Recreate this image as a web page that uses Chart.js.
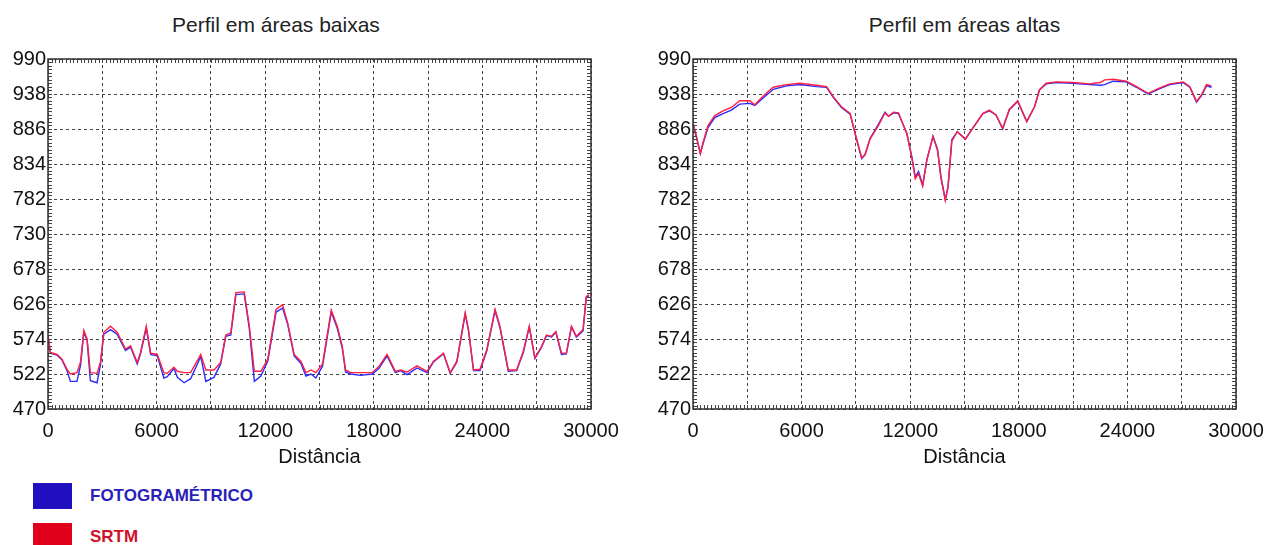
<!DOCTYPE html>
<html>
<head>
<meta charset="utf-8">
<script src="https://cdn.jsdelivr.net/npm/chart.js@4"></script>
<style>
  body { margin: 0; background: #fff; width: 1274px; height: 545px; overflow: hidden; position: relative; font-family: "Liberation Sans", Arial, sans-serif; }
  canvas { position: absolute; top: 0; }
  .titulo { position: absolute; top: 14px; font-size: 21px; line-height: 21px; color: #222; text-align: center; }
  .caixa { position: absolute; left: 33px; width: 39px; }
  .rotulo { position: absolute; left: 90px; font-size: 17px; line-height: 17px; font-weight: bold; }
</style>
</head>
<body>
<div class="titulo" style="left:0;width:552px">Perfil em áreas baixas</div>
<div class="titulo" style="left:693px;width:543px">Perfil em áreas altas</div>
<canvas id="baixas" width="637" height="475" style="left:0;width:637px;height:475px"></canvas>
<canvas id="altas" width="637" height="475" style="left:637px;width:637px;height:475px"></canvas>
<div class="caixa" style="top:483px;height:26px;background:#2010c0"></div>
<div class="rotulo" style="top:487px;color:#2a1fb8">FOTOGRAMÉTRICO</div>
<div class="caixa" style="top:523px;height:22px;background:#e0001b"></div>
<div class="rotulo" style="top:528px;color:#d0102a">SRTM</div>
<script>
// perfil em areas baixas
const distBaixas = [0, 130, 500, 770, 1050, 1240, 1600, 1800, 1980, 2160, 2340, 2710, 2900, 3080, 3450, 3820, 4280, 4560, 4930, 5100,
  5430, 5670, 6040, 6400, 6590, 6960, 7150, 7520, 7880, 8440, 8720, 9170, 9540, 9820, 10100, 10380, 10840, 11120, 11400, 11760,
  12140, 12600, 12960, 13240, 13600, 13970, 14250, 14530, 14800, 15170, 15650, 15980, 16260, 16440, 16720, 17270, 17910, 18280, 18730, 19190,
  19470, 19840, 20390, 20940, 21300, 21850, 22220, 22590, 23050, 23230, 23510, 23870, 24240, 24700, 24970, 25430, 25890, 26260, 26590, 26900,
  27270, 27540, 27820, 28060, 28370, 28640, 28920, 29190, 29560, 29740, 29890];
const fotoBaixas = [578, 553, 550, 543, 527, 511, 511, 535, 584, 572, 512, 509, 536, 581, 588, 581, 557, 562, 537, 551,
  590, 551, 549, 516, 518, 530, 517, 509, 515, 548, 511, 517, 537, 578, 580, 640, 641, 590, 511, 519,
  541, 614, 620, 596, 549, 538, 519, 522, 516, 534, 614, 590, 560, 525, 522, 520, 522, 530, 549, 524,
  527, 521, 531, 524, 540, 552, 523, 540, 611, 587, 527, 527, 556, 616, 591, 526, 527, 554, 592, 545,
  562, 579, 577, 584, 551, 552, 592, 577, 586, 636, 638];
const srtmBaixas = [580, 554, 551, 544, 529, 522, 524, 540, 587, 574, 524, 523, 540, 584, 593, 584, 559, 564, 539, 553,
  593, 553, 551, 524, 523, 532, 526, 524, 524, 551, 528, 528, 539, 580, 583, 643, 644, 594, 526, 526,
  544, 618, 625, 598, 551, 541, 524, 528, 524, 537, 617, 593, 563, 528, 524, 524, 524, 533, 551, 526,
  528, 525, 534, 526, 541, 553, 524, 541, 613, 588, 528, 529, 558, 618, 593, 528, 528, 556, 593, 546,
  563, 580, 578, 585, 553, 553, 593, 578, 588, 637, 640];

// perfil em areas altas
const distAltas = [0, 185, 406, 554, 830, 1200, 1660, 2120, 2580, 3140, 3415, 3875, 4430, 5170, 5900, 6830, 7380, 7750, 8200, 8680,
  9050, 9320, 9510, 9780, 10240, 10610, 10800, 11080, 11350, 11810, 12090, 12280, 12460, 12690, 12920, 13260, 13510, 13700, 13940, 14090,
  14300, 14600, 15050, 15450, 16010, 16380, 16740, 17110, 17480, 17940, 18440, 18870, 19140, 19510, 20070, 20990, 21910, 22500, 22740, 23210,
  23940, 24500, 25140, 25790, 26340, 27080, 27450, 27820, 28100, 28370, 28650];
const fotoAltas = [893, 874, 850, 864, 888, 903, 909, 914, 923, 924, 921, 932, 945, 950, 952, 949, 948, 933, 918, 908,
  869, 842, 848, 872, 893, 911, 905, 910, 909, 880, 845, 815, 823, 803, 840, 875, 856, 815, 781, 800,
  870, 882, 871, 887, 909, 913, 907, 886, 915, 927, 897, 919, 944, 953, 955, 954, 952, 951, 952, 957,
  956, 948, 938, 946, 952, 955, 948, 926, 936, 950, 948];
const srtmAltas = [895, 876, 849, 866, 891, 906, 913, 918, 928, 928, 922, 935, 948, 952, 954, 951, 949, 934, 919, 909,
  870, 843, 848, 871, 891, 910, 905, 911, 910, 879, 843, 812, 820, 801, 840, 875, 854, 813, 780, 800,
  868, 882, 871, 887, 909, 914, 907, 887, 915, 928, 897, 919, 944, 954, 956, 955, 953, 955, 959, 960,
  957, 949, 939, 947, 953, 956, 949, 927, 937, 952, 950];

const yTicks = [470, 522, 574, 626, 678, 730, 782, 834, 886, 938, 990];
const xTicks = [0, 6000, 12000, 18000, 24000, 30000];

const fonte = "'Liberation Sans', Arial, sans-serif";

// moldura e tracinhos menores nas quatro bordas
const moldura = {
  id: "moldura",
  afterDatasetsDraw(chart) {
    const { ctx, chartArea: a, scales: { x, y } } = chart;
    ctx.save();
    ctx.strokeStyle = "#444";
    ctx.lineWidth = 1;
    ctx.beginPath();
    for (let v = x.min; v <= x.max; v += 200) {
      const px = Math.round(x.getPixelForValue(v)) + 0.5;
      ctx.moveTo(px, a.top); ctx.lineTo(px, a.top + 4);
      ctx.moveTo(px, a.bottom); ctx.lineTo(px, a.bottom - 4);
    }
    for (let v = y.min; v <= y.max + 0.01; v += 5.2) {
      const py = Math.round(y.getPixelForValue(v)) + 0.5;
      ctx.moveTo(a.left, py); ctx.lineTo(a.left + 4, py);
      ctx.moveTo(a.right, py); ctx.lineTo(a.right - 4, py);
    }
    ctx.stroke();
    ctx.lineWidth = 1.5;
    ctx.strokeStyle = "#333";
    ctx.strokeRect(a.left, a.top, a.width, a.height);
    ctx.restore();
  },
};

function pontos(xs, ys) {
  return xs.map((d, i) => ({ x: d, y: ys[i] }));
}

function criarPerfil(id, dist, foto, srtm, larguraY, padDireita) {
  return new Chart(document.querySelector(id).getContext("2d"), {
    type: "line",
    data: {
      datasets: [
        { label: "FOTOGRAMÉTRICO", data: pontos(dist, foto), borderColor: "#2a2aff", borderWidth: 1.4, pointRadius: 0, tension: 0, order: 1 },
        { label: "SRTM", data: pontos(dist, srtm), borderColor: "#ff2040", borderWidth: 1.4, pointRadius: 0, tension: 0, order: 0 },
      ],
    },
    options: {
      responsive: false,
      animation: false,
      layout: { padding: { top: 59, left: 0, right: padDireita, bottom: 0 } },
      plugins: { legend: { display: false }, title: { display: false }, tooltip: { enabled: false } },
      scales: {
        x: {
          type: "linear",
          min: 0,
          max: 30000,
          afterFit: (s) => { s.height = 66; },
          afterBuildTicks: (s) => { s.ticks = [0, 3000, 6000, 9000, 12000, 15000, 18000, 21000, 24000, 27000, 30000].map((v) => ({ value: v })); },
          ticks: {
            padding: 10,
            maxRotation: 0,
            autoSkip: false,
            color: "#111",
            font: { family: fonte, size: 20 },
            callback: (v) => (xTicks.includes(v) ? String(v) : ""),
          },
          grid: { color: "#444", lineWidth: 1, drawTicks: false },
          border: { display: false, dash: [3, 3] },
          title: { display: true, text: "Distância", color: "#111", font: { family: fonte, size: 20 }, padding: { top: 0, bottom: 6 } },
        },
        y: {
          min: 470,
          max: 990,
          afterFit: (s) => { s.width = larguraY; },
          afterBuildTicks: (s) => { s.ticks = yTicks.map((v) => ({ value: v })); },
          ticks: { padding: 2, color: "#111", font: { family: fonte, size: 20 } },
          grid: { color: "#444", lineWidth: 1, drawTicks: false },
          border: { display: false, dash: [3, 3] },
        },
      },
    },
    plugins: [moldura],
  });
}

const graficoBaixas = criarPerfil("#baixas", distBaixas, fotoBaixas, srtmBaixas, 48, 46);
const graficoAltas = criarPerfil("#altas", distAltas, fotoAltas, srtmAltas, 56, 38);
</script>
</body>
</html>
